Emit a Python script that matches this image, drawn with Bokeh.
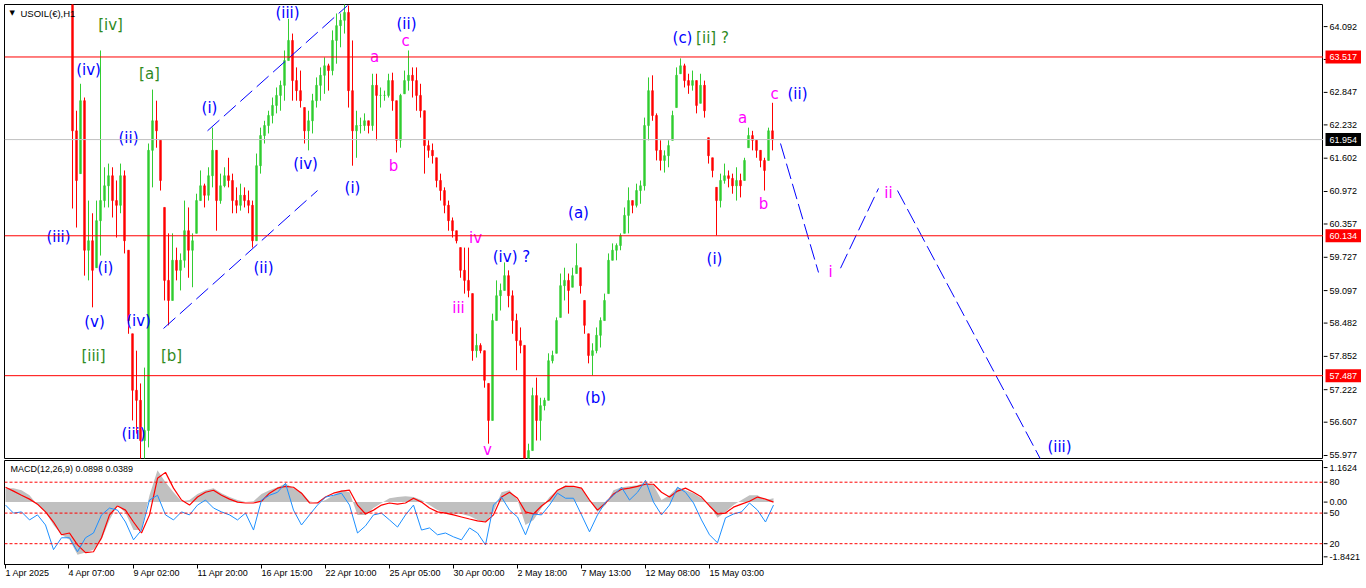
import numpy as np
from bokeh.plotting import figure
from bokeh.models import Range1d, Span, Label, FixedTicker, ColumnDataSource
from bokeh.layouts import column, row
from bokeh.embed import file_html
from bokeh.resources import INLINE
from bokeh.core.properties import value

# ---------------- data ----------------
symbol_title = "USOIL(€),H1"
macd_title = "MACD(12,26,9) 0.0898 0.0389"

# H1 candles, sampled every 4 hours starting at hour 67 after 1 Apr 2025 00:00
bar_start_hour = 67
bar_step = 4
first_open = 64.90
bar_high = [65.34, 62.50, 63.01, 62.75, 60.80, 60.56, 60.80, 63.64, 61.43, 61.50,
            61.43, 61.18, 61.50, 61.37, 59.86, 58.28, 57.96, 57.34, 57.64, 61.88,
            62.90, 62.69, 61.94, 60.67, 60.18, 60.18, 59.91, 59.80, 60.80, 60.67,
            60.18, 60.93, 61.37, 61.12, 61.43, 62.18, 61.75, 61.31, 61.43, 61.61,
            61.31, 61.05, 61.12, 61.05, 60.99, 60.80, 61.69, 62.18, 62.31, 62.50,
            62.75, 62.94, 63.07, 63.64, 64.24, 63.96, 63.32, 63.26, 62.56, 62.50,
            62.82, 63.13, 63.32, 63.51, 63.39, 64.02, 64.34, 64.34, 64.53, 64.49,
            63.83, 62.50, 62.37, 62.45, 62.31, 63.20, 63.20, 62.94, 62.88, 63.20,
            63.22, 62.69, 62.82, 63.26, 63.64, 63.32, 63.32, 63.01, 62.50, 61.94,
            61.88, 61.61, 61.31, 61.05, 60.80, 60.48, 60.23, 59.91, 59.91, 59.91,
            59.04, 58.28, 58.10, 57.96, 57.34, 58.66, 59.29, 59.23, 59.63, 59.48,
            59.10, 58.66, 58.40, 58.06, 56.20, 57.26, 57.45, 57.07, 57.07, 57.91,
            57.96, 58.59, 59.42, 59.53, 59.42, 59.53, 59.99, 59.53, 58.91, 58.28,
            58.10, 58.40, 58.59, 59.04, 59.80, 59.99, 59.99, 60.18, 60.67, 61.05,
            60.80, 61.12, 61.18, 62.37, 63.13, 63.17, 62.45, 61.94, 61.75, 61.94,
            62.50, 63.32, 63.49, 63.39, 63.20, 63.26, 63.07, 63.20, 63.07, 61.99,
            61.61, 61.05, 61.31, 61.50, 61.37, 61.31, 61.43, 61.31, 61.61, 62.18,
            62.12, 61.94, 61.75, 61.61, 62.18, 62.65]
bar_low = [60.65, 60.29, 61.31, 59.38, 59.29, 58.78, 59.53, 59.76, 60.67, 60.67,
           60.48, 60.10, 60.56, 59.80, 58.28, 56.64, 56.39, 55.69, 55.69, 56.13,
           61.05, 61.80, 60.99, 58.91, 58.44, 58.91, 59.29, 59.10, 59.53, 59.34,
           59.16, 60.18, 60.80, 60.67, 60.80, 61.05, 60.23, 60.74, 61.05, 61.05,
           60.56, 60.56, 60.61, 60.67, 60.56, 59.91, 60.04, 61.31, 61.88, 62.07,
           62.26, 62.45, 62.50, 62.69, 63.45, 62.69, 62.69, 62.56, 61.88, 61.75,
           62.07, 62.56, 62.69, 62.82, 62.88, 63.17, 63.39, 63.70, 63.96, 62.56,
           61.46, 61.61, 62.07, 62.12, 62.07, 62.12, 61.94, 62.56, 62.69, 62.75,
           62.50, 61.71, 61.80, 62.82, 62.88, 62.75, 62.50, 62.37, 61.31, 61.61,
           61.50, 61.05, 60.80, 60.56, 60.23, 60.10, 59.99, 59.34, 59.04, 58.97,
           57.77, 57.83, 57.91, 57.26, 56.20, 56.64, 58.53, 58.72, 59.10, 58.78,
           58.28, 57.59, 57.91, 55.60, 55.60, 56.07, 56.26, 56.26, 56.83, 57.02,
           57.72, 57.91, 58.59, 58.91, 58.66, 59.16, 59.42, 59.04, 58.28, 57.72,
           57.49, 57.91, 58.02, 58.53, 59.04, 59.67, 59.67, 59.86, 60.18, 60.18,
           60.56, 60.67, 60.74, 60.99, 61.94, 62.31, 61.56, 61.37, 61.33, 61.43,
           61.94, 62.56, 63.20, 62.94, 62.82, 62.88, 62.45, 62.64, 62.37, 61.50,
           61.24, 60.14, 60.67, 61.12, 61.05, 60.93, 60.80, 60.86, 61.18, 61.80,
           61.75, 61.61, 61.43, 60.99, 61.56, 61.75]
bar_close = [62.12, 61.18, 62.69, 59.86, 60.04, 59.48, 60.42, 60.80, 61.08, 61.27,
             60.80, 60.71, 61.27, 60.04, 58.53, 57.21, 57.02, 56.26, 56.45, 61.75,
             62.31, 62.12, 61.18, 59.29, 58.91, 59.67, 59.48, 59.67, 60.23, 59.86,
             60.04, 60.80, 61.08, 60.90, 61.27, 61.75, 60.80, 61.08, 61.27, 61.18,
             60.80, 60.71, 60.90, 60.80, 60.71, 60.04, 61.46, 62.03, 62.22, 62.41,
             62.60, 62.79, 62.98, 63.45, 63.83, 63.07, 62.88, 62.69, 62.12, 62.31,
             62.69, 62.98, 63.17, 63.35, 63.26, 63.83, 64.11, 64.21, 64.36, 62.88,
             62.12, 62.22, 62.22, 62.31, 62.22, 62.98, 62.79, 62.79, 62.79, 63.07,
             62.69, 61.94, 62.79, 63.07, 63.17, 63.07, 62.79, 62.50, 61.84, 61.75,
             61.65, 61.18, 60.99, 60.71, 60.42, 60.23, 60.04, 59.48, 59.29, 59.10,
             57.96, 58.06, 57.96, 57.40, 56.64, 58.53, 59.00, 59.10, 59.38, 59.00,
             58.53, 58.15, 58.06, 55.88, 56.07, 57.11, 56.64, 56.92, 57.02, 57.77,
             57.87, 58.53, 59.19, 59.29, 59.10, 59.38, 59.57, 59.19, 58.44, 57.87,
             57.96, 58.25, 58.53, 58.91, 59.67, 59.86, 59.95, 60.14, 60.52, 60.80,
             60.71, 60.99, 61.08, 62.22, 62.88, 62.41, 61.75, 61.56, 61.65, 61.84,
             62.41, 63.17, 63.35, 63.07, 62.98, 63.07, 62.60, 62.98, 62.50, 61.65,
             61.37, 60.80, 61.18, 61.27, 61.22, 61.08, 61.18, 61.08, 61.56, 62.03,
             61.94, 61.75, 61.56, 61.37, 62.12, 61.95]

# MACD window, sampled every 8 hours from hour 0
macd_step = 8
macd_hist = [0.47, 0.47, 0.40, 0.23, -0.10, -0.33, -0.77, -1.10, -1.27, -1.77,
             -1.70, -1.60, -1.27, -0.60, -0.10, -0.37, -0.94, -0.94, 0.23, 1.07,
             0.67, 0.33, 0.03, 0.07, 0.27, 0.40, 0.47, 0.30, 0.17, 0.07,
             0.00, 0.03, 0.27, 0.40, 0.50, 0.63, 0.47, 0.33, 0.03, -0.03,
             0.07, 0.23, 0.40, 0.33, -0.43, -0.43, -0.20, -0.03, 0.13, 0.17,
             0.20, 0.17, 0.07, -0.10, -0.27, -0.37, -0.40, -0.40, -0.47, -0.60,
             -0.67, -0.33, 0.33, 0.40, 0.07, -0.77, -0.60, -0.20, 0.17, 0.40,
             0.57, 0.50, 0.47, 0.07, -0.33, -0.10, 0.40, 0.50, 0.53, 0.57,
             0.67, 0.57, 0.07, 0.23, 0.50, 0.40, 0.30, 0.13, -0.10, -0.53,
             -0.33, -0.10, 0.07, 0.23, 0.23, 0.07, 0.13]
macd_signal = [0.50, 0.37, 0.23, 0.10, -0.07, -0.33, -0.67, -1.10, -1.04, -1.44,
               -1.70, -1.67, -1.20, -0.43, -0.13, -0.27, -0.67, -1.04, -0.43, 0.80,
               1.00, 0.47, 0.07, -0.10, 0.17, 0.33, 0.40, 0.23, 0.10, 0.00,
               -0.03, -0.03, 0.03, 0.30, 0.47, 0.53, 0.50, 0.30, -0.03, -0.03,
               0.17, 0.30, 0.37, 0.40, -0.10, -0.40, -0.27, -0.10, -0.03, -0.07,
               -0.03, 0.13, 0.00, -0.20, -0.33, -0.37, -0.43, -0.50, -0.57, -0.63,
               -0.67, -0.43, 0.17, 0.33, 0.13, -0.33, -0.40, -0.13, 0.07, 0.40,
               0.53, 0.53, 0.47, 0.07, -0.27, -0.03, 0.27, 0.43, 0.47, 0.53,
               0.60, 0.60, 0.33, 0.17, 0.37, 0.47, 0.33, 0.17, -0.13, -0.40,
               -0.37, -0.17, -0.07, 0.03, 0.17, 0.10, 0.00]
osc_line = [-0.10, -0.37, -0.33, -0.60, -0.43, -0.77, -1.60, -1.20, -1.20, -1.67,
            -1.20, -1.04, -0.43, -0.20, -0.27, -0.67, -1.27, -0.94, 0.07, 0.23,
            -0.43, -0.60, -0.33, -0.43, -0.10, 0.07, -0.20, -0.33, -0.43, -0.60,
            -0.37, -0.94, 0.07, 0.23, 0.33, 0.63, -0.27, -0.77, -0.43, -0.10,
            0.17, 0.23, 0.30, -0.10, -1.04, -0.80, -0.43, -0.37, -0.60, -0.84,
            -0.43, -0.10, -0.94, -0.87, -1.10, -1.04, -1.17, -1.27, -0.87, -1.04,
            -1.44, -0.10, 0.17, -0.27, -0.50, -1.10, -0.40, -0.43, -0.10, 0.30,
            0.13, 0.13, -0.43, -1.00, -0.43, 0.00, 0.23, 0.50, 0.07, 0.33,
            0.73, 0.00, -0.43, -0.10, 0.50, 0.33, -0.03, -0.60, -1.10, -1.37,
            -0.53, -0.40, -0.33, -0.03, -0.27, -0.67, -0.10]
macd_levels = [0.67, -0.37, -1.40]
macd_level_names = ["80", "50", "20"]
macd_scale_ticks = [1.1624, 0.0, -1.8421]
macd_scale_names = ["1.1624", "0.00", "-1.8421"]

# time axis (hours since 1 Apr 2025 00:00)
time_ticks = [0, 63, 128, 192, 256, 320, 384, 448, 512, 576, 640, 704]
time_labels = ["1 Apr 2025", "4 Apr 07:00", "9 Apr 02:00", "11 Apr 20:00", "16 Apr 15:00",
               "22 Apr 10:00", "25 Apr 05:00", "30 Apr 00:00", "2 May 18:00", "7 May 13:00",
               "12 May 08:00", "15 May 03:00"]

price_ticks = [64.092, 63.470, 62.847, 62.232, 61.602, 60.972, 60.357, 59.727,
               59.097, 58.482, 57.852, 57.222, 56.607, 55.977]
level_prices = [63.517, 60.134, 57.487]
last_price = 61.954

# Elliott wave labels: (hour, price, text)
blue_labels = [(83, 63.28, "(iv)"), (123, 61.99, "(ii)"), (204, 62.56, "(i)"),
               (282, 64.34, "(iii)"), (401, 64.15, "(ii)"), (300, 61.50, "(iv)"),
               (347, 61.03, "(i)"), (53, 60.12, "(iii)"), (100, 59.53, "(i)"),
               (258, 59.53, "(ii)"), (89, 58.51, "(v)"), (133, 58.53, "(iv)"),
               (128, 56.39, "(iii)"), (506, 59.74, "(iv) ?"), (677, 63.87, "(c)"),
               (573, 60.57, "(a)"), (590, 57.07, "(b)"), (709, 59.70, "(i)"),
               (792, 62.82, "(ii)"), (1054, 56.13, "(iii)")]
magenta_labels = [(369, 63.51, "a"), (400, 63.81, "c"), (388, 61.46, "b"),
                  (470, 60.10, "iv"), (453, 58.76, "iii"), (482, 56.09, "v"),
                  (737, 62.37, "a"), (758, 60.74, "b"), (769, 62.81, "c"),
                  (825, 59.44, "i"), (883, 60.95, "ii")]
green_labels = [(105, 64.13, "[iv]"), (144, 63.20, "[a]"), (88, 57.85, "[iii]"),
                (166, 57.85, "[b]"), (707, 63.87, "[ii] ?")]

# trend lines: (t0, p0, t1, p1)
channel_lines = [(202, 62.12, 342, 64.49), (158, 58.38, 312, 60.99)]
projection_lines = [(775, 61.88, 813, 59.44), (835, 59.52, 873, 61.03), (892, 60.99, 1040, 55.73)]

# ---------------- styling ----------------
GREEN = "#32cd32"
RED = "#ff0000"
AX_FONT = "Liberation Sans"
LBL_FONT = "DejaVu Sans"
X0, X1 = -1, 1318
AXW = 38
PAD = 4

def bare(fig):
    fig.grid.visible = False
    fig.border_fill_color = "white"
    fig.background_fill_color = "white"

# ---------------- main price panel ----------------
main = figure(frame_width=1319, frame_height=454, x_range=Range1d(X0, X1),
              y_range=Range1d(55.92, 64.51), y_axis_location=None, x_axis_location=None,
              toolbar_location=None, output_backend="svg",
              min_border_left=PAD, min_border_top=PAD, min_border_bottom=1, min_border_right=0)
bare(main)
main.outline_line_color = "black"
main.outline_line_width = 1

for lv in level_prices:
    main.add_layout(Span(location=lv, dimension="width", line_color="red", line_width=1))
main.add_layout(Span(location=last_price, dimension="width", line_color="#c0c0c0", line_width=1))

n = len(bar_close)
t = bar_start_hour + bar_step * np.arange(n)
hi = np.array(bar_high)
lo = np.array(bar_low)
cl = np.array(bar_close)
op = np.clip(np.concatenate([[first_open], cl[:-1]]), lo, hi)
colors = np.where(cl >= op, GREEN, RED)
src = ColumnDataSource(dict(t=t, hi=hi, lo=lo, top=np.maximum(op, cl), bot=np.minimum(op, cl), c=colors))
main.segment(x0="t", y0="lo", x1="t", y1="hi", color="c", line_width=1, source=src)
main.vbar(x="t", width=1.8, top="top", bottom="bot", fill_color="c", line_color="c", line_width=0.6, source=src)

for (a0, b0, a1, b1) in channel_lines:
    main.line([a0, a1], [b0, b1], line_color="#0000ff", line_width=1, line_dash="16 6")
for (a0, b0, a1, b1) in projection_lines:
    main.line([a0, a1], [b0, b1], line_color="#0000ff", line_width=1, line_dash="16 5")

def add_labels(fig, items, color, size):
    s = ColumnDataSource(dict(x=[i[0] for i in items], y=[i[1] for i in items], txt=[i[2] for i in items]))
    fig.text(x="x", y="y", text="txt", source=s, text_color=color, text_font=value(LBL_FONT),
             text_font_size=size, text_align="center", text_baseline="middle")

add_labels(main, blue_labels, "#0000ff", "15px")
add_labels(main, magenta_labels, "#ff00ff", "15px")
add_labels(main, green_labels, "#2f8a1e", "15px")

main.add_layout(Label(x=4, y=64.34, text="▼", text_font=LBL_FONT, text_font_size="7px",
                      text_color="black", text_baseline="middle", text_align="left"))
main.add_layout(Label(x=15, y=64.34, text=symbol_title, text_font=AX_FONT, text_font_size="9.5px",
                      text_color="black", text_baseline="middle", text_align="left"))

# price scale panel (right)
pax = figure(frame_width=AXW, frame_height=454, x_range=Range1d(0, AXW), y_range=main.y_range,
             x_axis_location=None, y_axis_location=None, toolbar_location=None, output_backend="svg",
             min_border_left=0, min_border_top=PAD, min_border_bottom=1, min_border_right=0)
bare(pax)
pax.outline_line_color = None
ps = ColumnDataSource(dict(y=price_ticks, x0=[0] * len(price_ticks), x1=[4] * len(price_ticks),
                           xt=[6] * len(price_ticks), txt=[f"{v:.3f}" for v in price_ticks]))
pax.segment(x0="x0", y0="y", x1="x1", y1="y", source=ps, line_color="black", line_width=1)
pax.text(x="xt", y="y", text="txt", source=ps, text_font=value(AX_FONT), text_font_size="9px",
         text_color="black", text_align="left", text_baseline="middle")
box_prices = level_prices + [last_price]
box_colors = ["red"] * len(level_prices) + ["black"]
bs = ColumnDataSource(dict(y=box_prices, xc=[20.5] * len(box_prices), xt=[6] * len(box_prices),
                           c=box_colors, txt=[f"{v:.3f}" for v in box_prices]))
pax.rect(x="xc", y="y", width=37, height=13, height_units="screen", source=bs,
         fill_color="c", line_color=None)
pax.text(x="xt", y="y", text="txt", source=bs, text_font=value(AX_FONT), text_font_size="9px",
         text_color="white", text_align="left", text_baseline="middle")

# ---------------- MACD panel ----------------
sub = figure(frame_width=1319, frame_height=104, x_range=main.x_range,
             y_range=Range1d(-2.10, 1.40), y_axis_location=None,
             toolbar_location=None, output_backend="svg",
             min_border_left=PAD, min_border_top=1, min_border_bottom=0, min_border_right=0)
bare(sub)
sub.outline_line_color = "black"
sub.outline_line_width = 1

mt = macd_step * np.arange(len(macd_hist))
sub.varea(x=mt, y1=np.zeros(len(mt)), y2=macd_hist, fill_color="#c0c0c0")
for lv in macd_levels:
    sub.add_layout(Span(location=lv, dimension="width", line_color="red", line_width=1, line_dash="3 2"))
sub.line(mt, macd_signal, line_color="red", line_width=1.2)
sub.line(mt, osc_line, line_color="#1e90ff", line_width=1)

sx = sub.xaxis[0]
sx.ticker = FixedTicker(ticks=time_ticks)
sx.major_label_overrides = {k: v for k, v in zip(time_ticks, time_labels)}
sx.major_label_orientation = -0.0001   # tiny negative angle -> labels start at their tick
sx.major_label_text_font = AX_FONT
sx.major_label_text_font_size = "9px"
sx.major_label_text_color = "black"
sx.major_tick_out = 4
sx.major_tick_in = 0
sx.minor_tick_out = 0
sx.minor_tick_in = 0
sx.major_label_standoff = 4
sx.axis_line_color = "black"

sub.add_layout(Label(x=5, y=1.10, text=macd_title, text_font=AX_FONT, text_font_size="9px",
                     text_color="black", text_baseline="middle", text_align="left"))

sax = figure(frame_width=AXW, frame_height=104, x_range=Range1d(0, AXW), y_range=sub.y_range,
             x_axis_location=None, y_axis_location=None, toolbar_location=None, output_backend="svg",
             min_border_left=0, min_border_top=1, min_border_bottom=0, min_border_right=0)
bare(sax)
sax.outline_line_color = None
m_ticks = macd_scale_ticks + macd_levels
m_names = macd_scale_names + macd_level_names
ms = ColumnDataSource(dict(y=m_ticks, x0=[0] * len(m_ticks), x1=[4] * len(m_ticks),
                           xt=[6] * len(m_ticks), txt=m_names))
sax.segment(x0="x0", y0="y", x1="x1", y1="y", source=ms, line_color="black", line_width=1)
sax.text(x="xt", y="y", text="txt", source=ms, text_font=value(AX_FONT), text_font_size="9px",
         text_color="black", text_align="left", text_baseline="middle")

layout = column(row(main, pax, spacing=0), row(sub, sax, spacing=0), spacing=0)

open("out.html", "w").write(file_html(layout, INLINE))
